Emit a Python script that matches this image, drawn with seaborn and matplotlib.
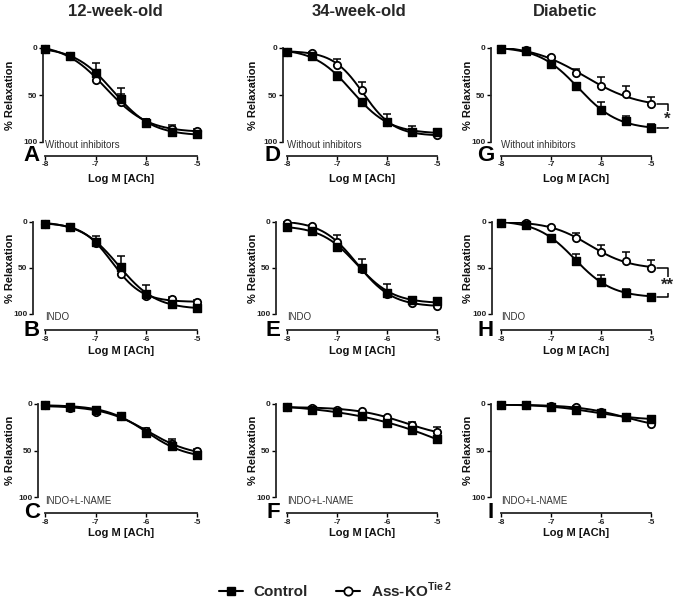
import numpy as np
import pandas as pd
import matplotlib
matplotlib.use("Agg")
import matplotlib.pyplot as plt
from matplotlib.lines import Line2D
import seaborn as sns

# ---------------- data ----------------
log_ach = [-8, -7.5, -7, -6.5, -6, -5.5, -5]
x_ticks = [-8, -7, -6, -5]
x_tick_labels = ["-8", "-7", "-6", "-5"]
y_ticks = [0, 50, 100]
y_tick_labels = ["0", "50", "100"]

col_titles = ["12-week-old", "34-week-old", "Diabetic"]
row_notes = ["Without inhibitors", "INDO", "INDO+L-NAME"]
panel_letters = [["A", "D", "G"], ["B", "E", "H"], ["C", "F", "I"]]

# control mean / error ; Ass-KO mean / error   (per panel)
A_ctrl = [1, 9, 27, 54, 80, 89, 91];  A_ctrl_err = [1, 2, 11, 11, 5, 5, 3]
A_ko   = [1, 8, 34, 57, 79, 86, 88];  A_ko_err   = [1, 2, 3, 8, 3, 4, 2]
D_ctrl = [4, 9, 30, 57, 79, 89, 89];  D_ctrl_err = [1, 2, 4, 3, 4, 3, 2]
D_ko   = [4, 5, 18, 45, 79, 89, 93];  D_ko_err   = [1, 1, 6, 9, 9, 6, 4]
G_ctrl = [1, 3, 17, 40, 66, 78, 85];  G_ctrl_err = [1, 1, 2, 3, 9, 6, 4]
G_ko   = [1, 2, 10, 27, 40, 49, 60];  G_ko_err   = [1, 1, 2, 5, 9, 9, 8]
B_ctrl = [2, 5, 22, 49, 78, 89, 94];  B_ctrl_err = [1, 1, 7, 12, 9, 5, 2]
B_ko   = [2, 5, 23, 56, 80, 84, 87];  B_ko_err   = [1, 1, 2, 3, 3, 3, 2]
E_ctrl = [5, 10, 27, 50, 77, 85, 86]; E_ctrl_err = [1, 2, 3, 10, 10, 3, 3]
E_ko   = [1, 4, 22, 51, 78, 88, 91];  E_ko_err   = [1, 1, 8, 3, 3, 2, 2]
H_ctrl = [1, 3, 17, 42, 65, 77, 81];  H_ctrl_err = [1, 1, 3, 7, 7, 4, 3]
H_ko   = [1, 1, 5, 17, 33, 42, 50];   H_ko_err   = [1, 1, 1, 5, 8, 9, 9]
C_ctrl = [1, 3, 6, 13, 31, 45, 55];   C_ctrl_err = [1, 1, 1, 1, 5, 7, 6]
C_ko   = [1, 4, 9, 13, 29, 43, 51];   C_ko_err   = [1, 1, 1, 1, 2, 3, 3]
F_ctrl = [3, 6, 9, 13, 20, 28, 38];   F_ctrl_err = [1, 1, 1, 1, 1, 5, 2]
F_ko   = [3, 4, 6, 8, 14, 23, 30];    F_ko_err   = [1, 1, 1, 1, 1, 4, 5]
I_ctrl = [1, 1, 3, 6, 10, 14, 16];    I_ctrl_err = [1, 1, 1, 1, 1, 2, 3]
I_ko   = [1, 1, 2, 3, 9, 14, 21];     I_ko_err   = [1, 1, 1, 1, 1, 1, 1]

panels = {
    "A": (A_ctrl, A_ctrl_err, A_ko, A_ko_err),
    "B": (B_ctrl, B_ctrl_err, B_ko, B_ko_err),
    "C": (C_ctrl, C_ctrl_err, C_ko, C_ko_err),
    "D": (D_ctrl, D_ctrl_err, D_ko, D_ko_err),
    "E": (E_ctrl, E_ctrl_err, E_ko, E_ko_err),
    "F": (F_ctrl, F_ctrl_err, F_ko, F_ko_err),
    "G": (G_ctrl, G_ctrl_err, G_ko, G_ko_err),
    "H": (H_ctrl, H_ctrl_err, H_ko, H_ko_err),
    "I": (I_ctrl, I_ctrl_err, I_ko, I_ko_err),
}
# significance marks per panel
significance = {"G": "*", "H": "**"}

legend_labels = ["Control", r"Ass-KO$^{\mathbf{Tie\,2}}$"]

# ---------------- style ----------------
sns.set_theme(style="ticks")
plt.rcParams["font.family"] = ["Liberation Sans", "DejaVu Sans"]
plt.rcParams["mathtext.fontset"] = "custom"
plt.rcParams["mathtext.rm"] = "Liberation Sans"
plt.rcParams["mathtext.bf"] = "Liberation Sans:bold"
plt.rcParams["axes.linewidth"] = 1.3

W, H = 678, 601
fig = plt.figure(figsize=(W / 100, H / 100), dpi=100)


def fit_curve(x, y):
    """4-parameter logistic fit (grid over EC50 / slope, linear LS for bottom/top)."""
    x = np.asarray(x, float)
    y = np.asarray(y, float)
    cs = np.linspace(-9.5, -3.5, 241)[:, None, None]
    hs = np.linspace(0.3, 3.0, 109)[None, :, None]
    s = 1.0 / (1.0 + 10 ** ((cs - x[None, None, :]) * hs))
    sm = s.mean(-1, keepdims=True)
    ym = y.mean()
    var = ((s - sm) ** 2).sum(-1)
    cov = ((s - sm) * (y - ym)).sum(-1)
    b = cov / np.maximum(var, 1e-12)
    a = ym - b * sm[..., 0]
    pred = a[..., None] + b[..., None] * s
    err = ((pred - y) ** 2).sum(-1)
    i, j = np.unravel_index(np.argmin(err), err.shape)
    c, h = cs[i, 0, 0], hs[0, j, 0]
    xs = np.linspace(-8, -5, 200)
    ys = a[i, j] + b[i, j] / (1.0 + 10 ** ((c - xs) * h))
    return xs, ys


cols_left = [45, 287, 501]
cols_w = [152, 150, 150]
rows_top = [48, 222, 404]
rows_h = [94, 92, 93]
rows_bottom_off = [13.5, 16, 16]
xlabel_y = [179, 351, 533]
ylabel_x = [10, 253, 468]
letter_right = [40, 280, 494]
title_x = [115, 359, 565]
left_off = {"A": 2, "B": 12, "C": 7, "D": 4, "E": 11, "F": 11, "G": 10, "H": 9, "I": 10}

for r in range(3):
    for c in range(3):
        L = panel_letters[r][c]
        ctrl, ctrl_err, ko, ko_err = panels[L]
        lp, tp, wp, hp = cols_left[c], rows_top[r], cols_w[c], rows_h[r]
        ax = fig.add_axes([lp / W, 1 - (tp + hp) / H, wp / W, hp / H])
        ax.set_facecolor("none")
        ax.set_xlim(-8, -5)
        ax.set_ylim(100, 0)

        # fitted curves
        for vals in (ctrl, ko):
            xs, ys = fit_curve(log_ach, vals)
            sns.lineplot(x=xs, y=ys, ax=ax, color="black", lw=1.4, zorder=2,
                         sort=False, estimator=None)
        # one-sided error bars (drawn toward smaller relaxation)
        ax.errorbar(log_ach, ctrl, yerr=[ctrl_err, [0] * len(ctrl)], fmt="none",
                    ecolor="black", elinewidth=1.1, capsize=3.2, capthick=1.1,
                    zorder=2, clip_on=False)
        ax.errorbar(log_ach, ko, yerr=[ko_err, [0] * len(ko)], fmt="none",
                    ecolor="black", elinewidth=1.1, capsize=3.2, capthick=1.1,
                    zorder=2, clip_on=False)
        sns.scatterplot(x=log_ach, y=ko, ax=ax, marker="o", s=28, color="white",
                        edgecolor="black", linewidth=1.3, zorder=4, clip_on=False)
        sns.scatterplot(x=log_ach, y=ctrl, ax=ax, marker="s", s=28, color="black",
                        edgecolor="black", linewidth=1.0, zorder=5, clip_on=False)

        sns.despine(ax=ax)
        ax.spines["left"].set_position(("outward", left_off[L] * 0.72))
        ax.spines["bottom"].set_position(("outward", rows_bottom_off[r] * 0.72))
        ax.spines["left"].set_bounds(0, 100)
        ax.spines["bottom"].set_bounds(-8, -5)
        ax.set_xticks(x_ticks)
        ax.set_xticklabels(x_tick_labels)
        ax.set_yticks(y_ticks)
        ax.set_yticklabels(y_tick_labels)
        ax.tick_params(axis="both", length=2.8, width=1.0, pad=1.2,
                       labelsize=6, colors="black")
        for t in ax.get_xticklabels() + ax.get_yticklabels():
            t.set_fontweight("bold")
            t.set_color("#222222")

        ax.set_xlabel("Log M [ACh]", fontsize=8, fontweight="bold", color="#111111")
        ax.xaxis.label.set_va("center")
        ax.xaxis.set_label_coords(0.5, -(xlabel_y[r] - (tp + hp)) / hp)
        ax.set_ylabel("% Relaxation", fontsize=8, fontweight="bold", color="#111111")
        ax.yaxis.label.set_va("center")
        ax.yaxis.set_label_coords((ylabel_x[c] - lp) / wp, 0.5)

        # note text
        ax.annotate(row_notes[r], xy=(-8, 100), xytext=(0, -6.5),
                    textcoords="offset pixels", fontsize=7, color="#333333",
                    ha="left", va="baseline", annotation_clip=False)

        # panel letter
        spine_y = tp + hp + rows_bottom_off[r]
        fig.text(letter_right[c] / W, 1 - spine_y / H, L, fontsize=16,
                 fontweight="bold", ha="right", va="center", color="black")

        # significance bracket
        if L in significance:
            y1, y2 = ko[-1], ctrl[-1]
            xb0, xb1 = -4.88, -4.67
            ax.plot([xb0, xb1, xb1, xb0], [y1, y1, y2, y2], color="black",
                    lw=1.1, clip_on=False, zorder=3)
            ax.text(xb1, (y1 + y2) / 2 + 3, significance[L], fontsize=12,
                    fontweight="bold", ha="center", va="center", color="#222222",
                    bbox=dict(boxstyle="square,pad=0.05", fc="white", ec="none"),
                    zorder=4, clip_on=False)

        if r == 0:
            fig.text(title_x[c] / W, 1 - 11 / H, col_titles[c], fontsize=12,
                     fontweight="bold", ha="center", va="center")

handles = [
    Line2D([], [], color="black", lw=1.5, marker="s", markersize=6,
           markerfacecolor="black", markeredgecolor="black"),
    Line2D([], [], color="black", lw=1.5, marker="o", markersize=6,
           markerfacecolor="white", markeredgecolor="black", markeredgewidth=1.3),
]
fig.legend(handles, legend_labels, loc="center", bbox_to_anchor=(335 / W, 1 - 590 / H),
           ncol=2, frameon=False, handlelength=1.6, handletextpad=0.7,
           columnspacing=1.8, prop={"weight": "bold", "size": 11})

fig.savefig("out.png", dpi=100)
